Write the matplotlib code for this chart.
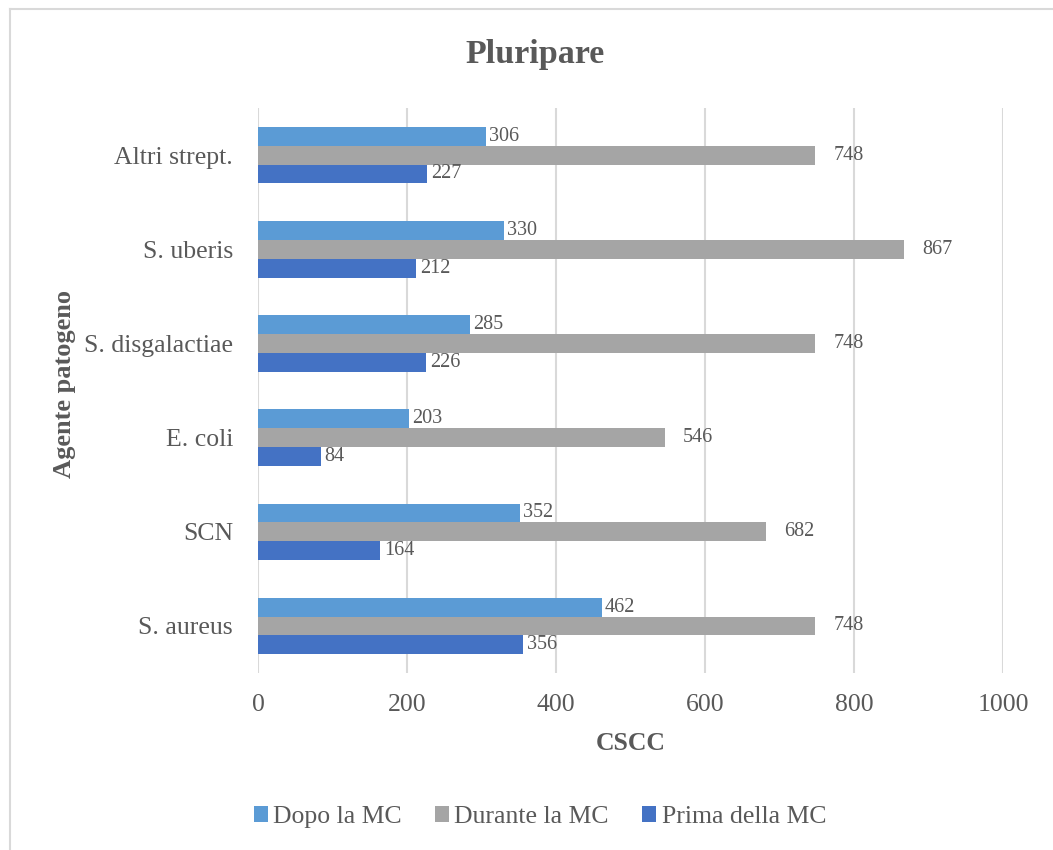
import matplotlib
matplotlib.use("Agg")
import matplotlib.pyplot as plt
from matplotlib.lines import Line2D
from matplotlib.patches import Patch
import numpy as np

categories = ["S. aureus", "SCN", "E. coli", "S. disgalactiae", "S. uberis", "Altri strept."]
series_names = ["Dopo la MC", "Durante la MC", "Prima della MC"]
dopo = [462, 352, 203, 285, 330, 306]
durante = [748, 682, 546, 748, 867, 748]
prima = [356, 164, 84, 226, 212, 227]
x_ticks = [0, 200, 400, 600, 800, 1000]

colors = ["#5B9BD5", "#A5A5A5", "#4472C4"]
text_color = "#595959"
grid_color = "#D9D9D9"

plt.rcParams["font.family"] = ["Liberation Serif", "DejaVu Serif"]

fig = plt.figure(figsize=(10.53, 8.5), dpi=100)
W, H = 1053, 850
ax = fig.add_axes([258 / W, 1 - 673 / H, (1003 - 258) / W, (673 - 108) / H])

y = np.arange(len(categories))
bh = 0.2
offsets = [bh, 0.0, -bh]
label_pad = [2, 13, 3]
for vals, off, col, name, pad in zip([dopo, durante, prima], offsets, colors, series_names, label_pad):
    bars = ax.barh(y + off, vals, height=bh, color=col, label=name, zorder=3)
    for b, v in zip(bars, vals):
        ax.annotate(str(v), (b.get_width(), b.get_y() + b.get_height() / 2),
                    xytext=(pad, 0), textcoords="offset points",
                    ha="left", va="center", fontsize=14.5, color=text_color, zorder=4)

ax.set_xlim(0, 1000)
ax.set_ylim(-0.5, len(categories) - 0.5)
ax.set_xticks(x_ticks)
ax.set_xticklabels([str(t) for t in x_ticks])
ax.set_yticks(y)
ax.set_yticklabels(categories)
ax.tick_params(axis="both", length=0, labelsize=18.5, labelcolor=text_color)
ax.tick_params(axis="y", pad=18)
ax.tick_params(axis="x", pad=15)
for s in ax.spines.values():
    s.set_visible(False)
ax.grid(axis="x", color=grid_color, linewidth=1.5, zorder=0)
ax.set_axisbelow(True)

fig.text(535 / W, 1 - 63 / H, "Pluripare", ha="center", va="baseline",
         fontsize=24.5, fontweight="bold", color=text_color)
fig.text(631 / W, 1 - 744 / H, "CSCC", ha="center", va="center",
         fontsize=18.5, fontweight="bold", color=text_color)
fig.text(65 / W, 1 - 384 / H, "Agente patogeno", ha="center", va="center",
         rotation=90, fontsize=19, fontweight="bold", color=text_color)

handles = [Patch(facecolor=c, edgecolor="none") for c in colors]
fig.legend(handles, series_names, loc="center", bbox_to_anchor=(540 / W, 1 - 817 / H),
           ncol=3, frameon=False, fontsize=18.5, handlelength=0.55, handleheight=0.55,
           handletextpad=0.2, columnspacing=1.3, labelcolor=text_color)

# chart-area frame
fig.add_artist(Line2D([10 / W, 1], [1 - 9 / H, 1 - 9 / H], transform=fig.transFigure,
                      color=grid_color, linewidth=1.5))
fig.add_artist(Line2D([10 / W, 10 / W], [0, 1 - 9 / H], transform=fig.transFigure,
                      color=grid_color, linewidth=1.5))

fig.savefig("out.png", dpi=100, facecolor="white")
